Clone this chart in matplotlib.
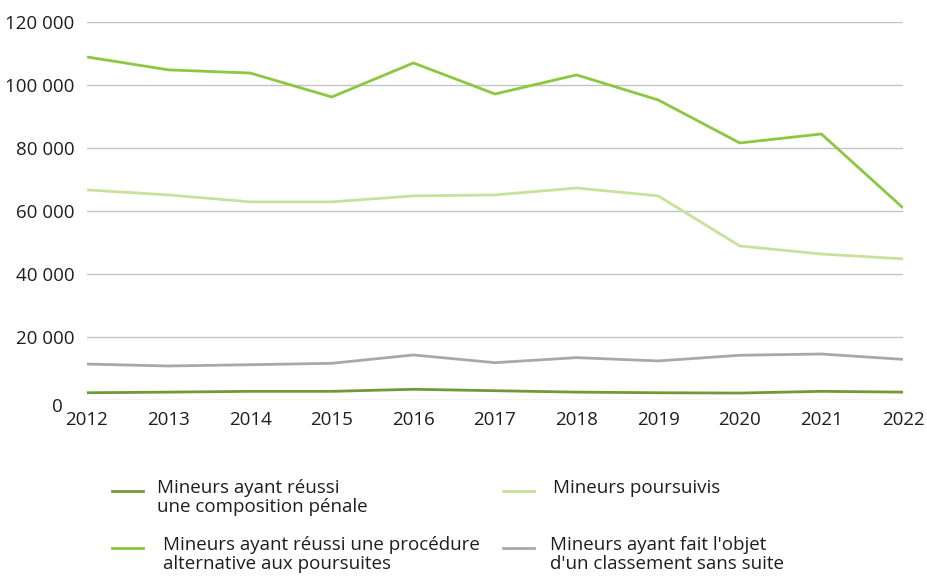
import matplotlib.pyplot as plt
from matplotlib.lines import Line2D
from matplotlib.ticker import FuncFormatter
from matplotlib.transforms import ScaledTranslation

plt.rcParams['font.family'] = ['Open Sans', 'DejaVu Sans']

# Data
years = [2012, 2013, 2014, 2015, 2016, 2017, 2018, 2019, 2020, 2021, 2022]
composition_penale = [2300, 2500, 2750, 2750, 3400, 2950, 2500, 2300, 2200, 2750, 2500]
procedure_alternative = [108900, 104800, 103800, 96200, 107000, 97150, 103200, 95250, 81600, 84450, 61000]
poursuivis = [66700, 65100, 62900, 62900, 64800, 65100, 67300, 64800, 48900, 46350, 44800]
classement_sans_suite = [11400, 10800, 11200, 11650, 14300, 11850, 13450, 12400, 14200, 14600, 12900]

labels = [
    "Mineurs ayant réussi\nune composition pénale",
    "Mineurs ayant réussi une procédure\nalternative aux poursuites",
    "Mineurs poursuivis",
    "Mineurs ayant fait l'objet\nd'un classement sans suite",
]
colors = ['#6f9a37', '#8dc63f', '#c6e29c', '#a8a9ad']
text_color = '#1e1e1e'

fig = plt.figure(figsize=(9.28, 5.8), dpi=100)
ax = fig.add_axes([87 / 928, 1 - 400 / 580, (903 - 87) / 928, (400 - 22) / 580])

series = [composition_penale, procedure_alternative, poursuivis, classement_sans_suite]
# draw order: gray and light first, bright green on top
for idx in [3, 2, 0, 1]:
    ax.plot(years, series[idx], color=colors[idx], lw=2.0, solid_capstyle='butt', zorder=3)

ax.set_xlim(2012, 2022)
ax.set_ylim(0, 120000)
ax.set_yticks(range(0, 120001, 20000))
ax.set_xticks(years)
ax.yaxis.set_major_formatter(FuncFormatter(lambda v, p: f"{int(v):,}".replace(',', ' ')))
ax.grid(axis='y', color='#c4c4c4', lw=1.0, zorder=1)
ax.set_axisbelow(True)
for s in ax.spines.values():
    s.set_visible(False)
ax.tick_params(axis='both', length=0, labelsize=13.5, colors=text_color)
ax.tick_params(axis='y', pad=9)
ax.tick_params(axis='x', pad=8)

# the "0" label sits lower and further left than the others
fig.canvas.draw()
for lab in ax.get_yticklabels():
    if lab.get_text() == '0':
        lab.set_transform(lab.get_transform() + ScaledTranslation(-12 / 100, -5 / 100, fig.dpi_scale_trans))

# legend, two columns, handle aligned with the first text line
legend_pos = [
    (112, 157, 490),
    (112, 163, 547),
    (503, 553, 490),
    (503, 550, 547),
]
for (hx, tx, ty), lab, col in zip(legend_pos, labels, colors):
    fig.add_artist(Line2D([hx / 928, (hx + 31) / 928], [1 - (ty + 1) / 580] * 2,
                          color=col, lw=2.0, transform=fig.transFigure))
    fig.text(tx / 928, 1 - (ty - 11) / 580, lab, ha='left', va='top',
             fontsize=13.5, color=text_color, linespacing=1.1)

fig.savefig('out.png', dpi=100)
